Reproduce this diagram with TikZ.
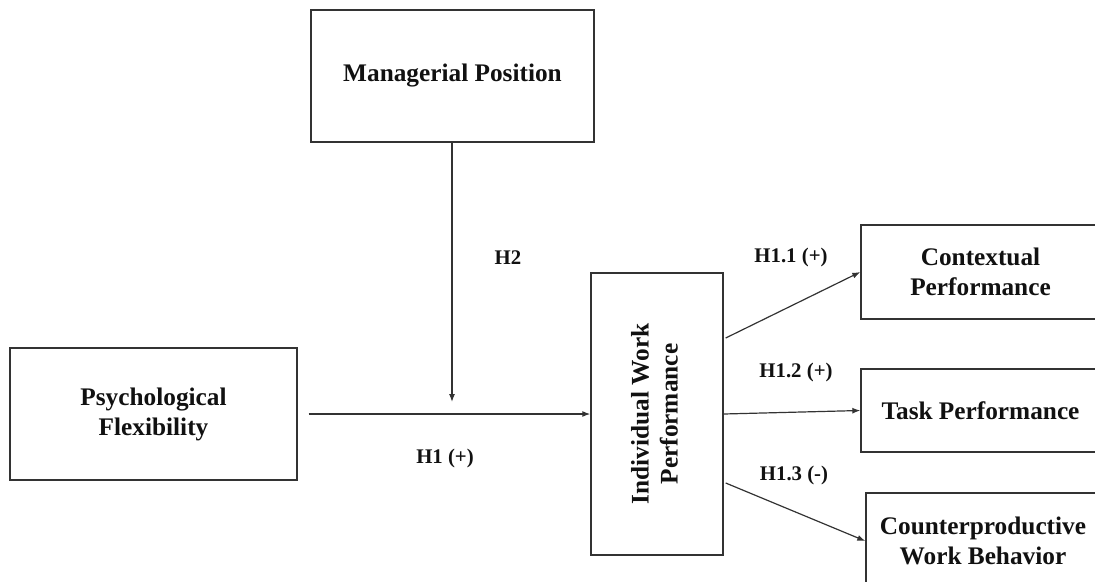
\documentclass[tikz,border=0pt]{standalone}
\usepackage{fontspec}
\setmainfont{Liberation Serif}
\usepackage{xcolor}
\definecolor{lineclr}{HTML}{333333}
\definecolor{textclr}{HTML}{111111}
\usetikzlibrary{arrows.meta, positioning, calc}
\tikzset{
  vbox/.style ={rectangle, draw=lineclr, line width=1.4pt, fill=white, text=textclr, align=center,
                inner sep=4pt, font=\fontsize{25.3}{30}\selectfont\bfseries},
  varr/.style ={-{Latex[length=8pt, width=6pt]}, line width=1.2pt, color=lineclr},
  vlbl/.style ={font=\fontsize{20.8}{24}\selectfont\bfseries, text=textclr, inner sep=1pt},
}
\begin{document}
\begin{tikzpicture}[x=1pt, y=-1pt]
  \useasboundingbox (0,0) rectangle (1095,581);
  % boxes
  \node[vbox, minimum width=283pt, minimum height=132pt] (mp) at (452.5,76) {Managerial Position};
  \node[vbox, minimum width=287pt, minimum height=132pt] (pf) at (153.5,414) {Psychological\\Flexibility};
  \node[vbox, minimum width=132pt, minimum height=282pt] (iwp) at (657,414)
       {\rotatebox{90}{\begin{tabular}{@{}c@{}}Individual Work\\[-1pt]Performance\end{tabular}}};
  \node[vbox, minimum width=239pt, minimum height=94pt] (cp) at (980.5,272) {Contextual\\Performance};
  \node[vbox, minimum width=239pt, minimum height=83pt] (tp) at (980.5,410.5) {Task Performance};
  \node[vbox, minimum width=234pt, minimum height=96pt] (cwb) at (983,541) {Counterproductive\\Work Behavior};
  \coordinate (mod) at (452,402);
  % connectors
  \draw[varr] (mp.south -| mod) -- (mod);
  \draw[varr, shorten <=11pt] (pf.east |- iwp.west) -- (iwp.west);
  \draw[varr] ($(iwp.east)+(2,-76)$) -- (cp.west);
  \draw[varr] (iwp.east) -- (tp.west);
  \draw[varr] ($(iwp.east)+(2,69)$) -- (cwb.west);
  % labels
  \node[vlbl] (h2) at (508,258) {H2};
  \node[vlbl] (h1) at (445,458) {H1 (+)};
  \node[vlbl] (h11) at (791,257) {H1.1 (+)};
  \node[vlbl] (h12) at (796,372) {H1.2 (+)};
  \node[vlbl] (h13) at (794,475) {H1.3 (-)};
\end{tikzpicture}
\end{document}
